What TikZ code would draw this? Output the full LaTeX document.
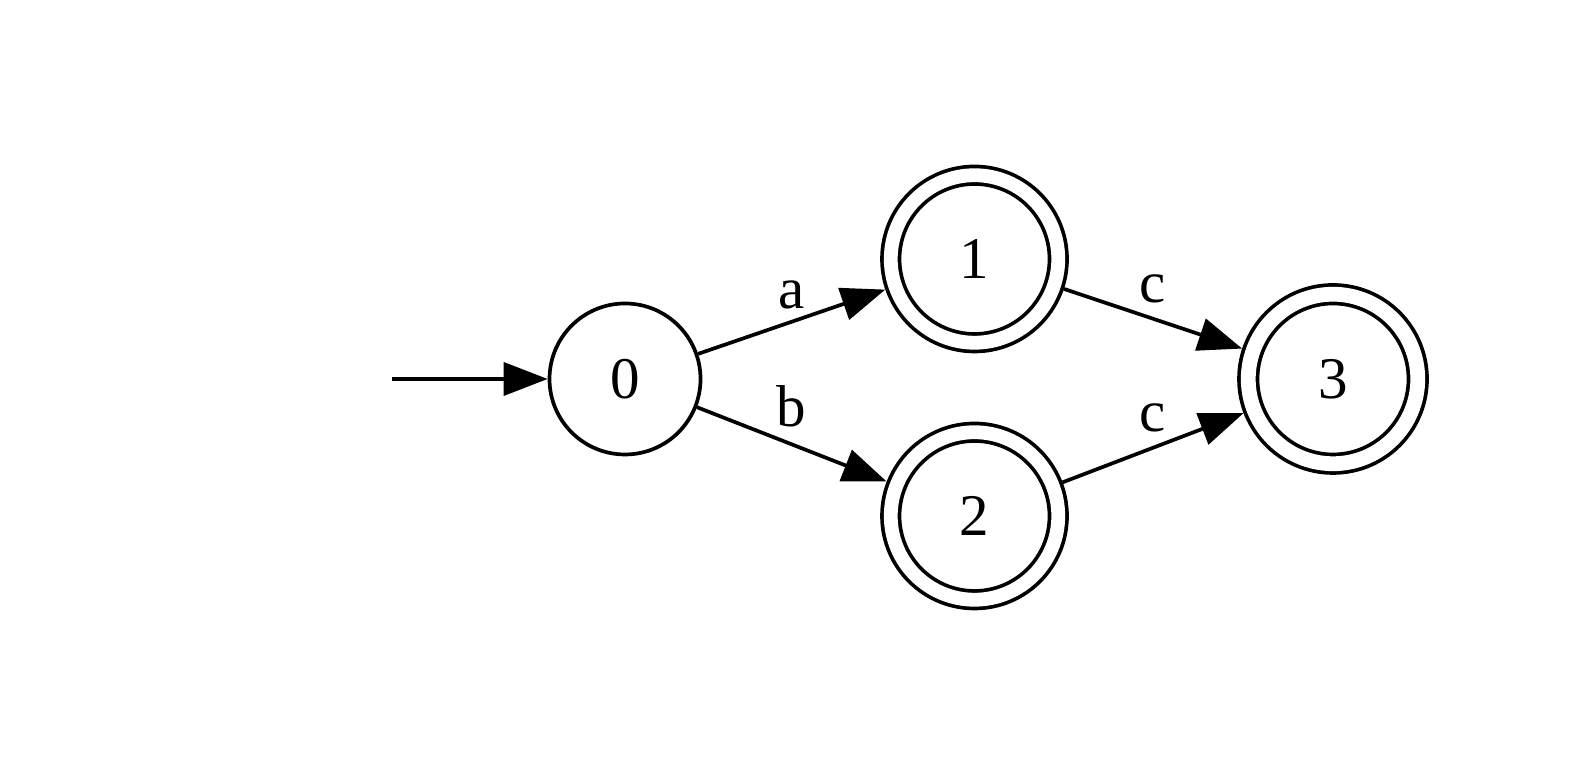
\documentclass[tikz,border=0pt]{standalone}
\usepackage{fontspec}
\setmainfont{Liberation Serif}
\usetikzlibrary{arrows.meta}
\begin{document}
\begin{tikzpicture}[x=1cm,y=1cm,
  every node/.style={font=\fontsize{16.8}{20}\selectfont},
  lw/.style={line width=1.05pt},
  state/.style={circle, draw, lw, minimum size=1.51cm, inner sep=0pt},
  accept/.style={circle, draw, lw, double, double distance=0.138cm, minimum size=1.675cm, inner sep=0pt, outer sep=0.106cm},
  acceptbig/.style={accept, double distance=0.148cm, minimum size=1.695cm, outer sep=0.111cm},
  edge/.style={lw, -{Triangle[length=0.44cm, width=0.33cm]}},
  lab/.style={anchor=base, inner sep=0pt}
]
\useasboundingbox (0,0) rectangle (15.91,7.75);
\node[state] (n0) at (6.25,3.96) {0};
\node[accept] (n1) at (9.745,5.16) {1};
\node[accept] (n2) at (9.745,2.59) {2};
\node[acceptbig] (n3) at (13.33,3.96) {3};
\coordinate (start) at (3.92,3.96);
\draw[edge] (start) -- (n0);
\draw[edge] (n0) -- (n1);
\draw[edge] (n0) -- (n2);
\draw[edge] (n1) -- (n3);
\draw[edge] (n2) -- (n3);
\node[lab] (la) at (7.92,4.66) {a};
\node[lab] (lb) at (7.91,3.48) {b};
\node[lab] (lc1) at (11.53,4.72) {c};
\node[lab] (lc2) at (11.53,3.43) {c};
\end{tikzpicture}
\end{document}
